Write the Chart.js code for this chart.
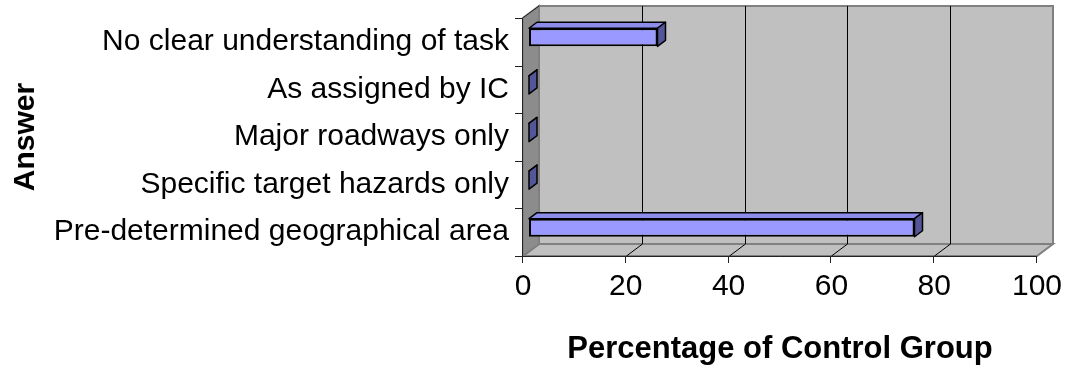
<!DOCTYPE html>
<html>
<head>
<meta charset="utf-8">
<script src="https://cdn.jsdelivr.net/npm/chart.js@4"></script>
<style>
  body { margin: 0; background: #fff; }
</style>
</head>
<body>
<canvas id="answerChart" width="1068" height="370"></canvas>
<script>
const categories = [
    'No clear understanding of task',
    'As assigned by IC',
    'Major roadways only',
    'Specific target hazards only',
    'Pre-determined geographical area'
];
const percentages = [25, 0, 0, 0, 75];
const xTicks = [0, 20, 40, 60, 80, 100];

const DEPTH_X = 16, DEPTH_Y = -12;   // wall depth
const BAR_OFF_X = 6, BAR_OFF_Y = -4.5; // bar front sits inside the box
const BAR_DX = 8, BAR_DY = -6;       // bar depth

// draws the excel-like 3d box, then shifts the bars in
const box3d = {
    id: 'box3d',
    beforeDatasetsDraw(chart) {
        const ctx = chart.ctx;
        const xs = chart.scales.x;
        const x0 = xs.getPixelForValue(0), x1 = xs.getPixelForValue(100);
        const top = chart.chartArea.top, bottom = chart.chartArea.bottom;

        ctx.save();

        // back wall
        ctx.fillStyle = '#C0C0C0';
        ctx.fillRect(x0 + DEPTH_X, top + DEPTH_Y, x1 - x0, bottom - top);
        ctx.strokeStyle = '#808080';
        ctx.lineWidth = 2;
        ctx.strokeRect(x0 + DEPTH_X, top + DEPTH_Y, x1 - x0, bottom - top);

        // floor
        ctx.beginPath();
        ctx.moveTo(x0, bottom);
        ctx.lineTo(x0 + DEPTH_X, bottom + DEPTH_Y);
        ctx.lineTo(x1 + DEPTH_X, bottom + DEPTH_Y);
        ctx.lineTo(x1, bottom);
        ctx.closePath();
        ctx.fillStyle = '#C0C0C0';
        ctx.fill();
        ctx.strokeStyle = '#808080';
        ctx.stroke();

        // left wall
        ctx.beginPath();
        ctx.moveTo(x0, top);
        ctx.lineTo(x0 + DEPTH_X, top + DEPTH_Y);
        ctx.lineTo(x0 + DEPTH_X, bottom + DEPTH_Y);
        ctx.lineTo(x0, bottom);
        ctx.closePath();
        ctx.fillStyle = '#8C8C8C';
        ctx.fill();
        ctx.strokeStyle = '#808080';
        ctx.stroke();

        // gridlines on back wall + floor diagonals
        ctx.strokeStyle = '#000';
        ctx.lineWidth = 1;
        xTicks.slice(1, -1).forEach(v => {
            const px = Math.round(xs.getPixelForValue(v)) + 0.5;
            ctx.beginPath();
            ctx.moveTo(px + DEPTH_X, top + DEPTH_Y);
            ctx.lineTo(px + DEPTH_X, bottom + DEPTH_Y);
            ctx.moveTo(px, bottom);
            ctx.lineTo(px + DEPTH_X, bottom + DEPTH_Y);
            ctx.stroke();
        });

        // axes and tick marks
        ctx.strokeStyle = '#222';
        ctx.beginPath();
        ctx.moveTo(x0 - 0.5, top);
        ctx.lineTo(x0 + DEPTH_X, top + DEPTH_Y);
        ctx.moveTo(x0 - 0.5, top);
        ctx.lineTo(x0 - 0.5, bottom + 0.5);
        ctx.lineTo(x1, bottom + 0.5);
        xTicks.forEach(v => {
            const px = Math.round(xs.getPixelForValue(v)) - 0.5;
            ctx.moveTo(px, bottom);
            ctx.lineTo(px, bottom + 7);
        });
        const band = (bottom - top) / categories.length;
        for (let i = 0; i <= categories.length; i++) {
            const py = Math.round(top + i * band) + 0.5;
            ctx.moveTo(x0 - 8, py);
            ctx.lineTo(x0, py);
        }
        ctx.stroke();
        ctx.restore();

        ctx.save();
        ctx.translate(BAR_OFF_X, BAR_OFF_Y);
    },
    afterDatasetsDraw(chart) {
        const ctx = chart.ctx;
        const meta = chart.getDatasetMeta(0);
        ctx.lineWidth = 1.5;
        ctx.strokeStyle = '#000';
        ctx.lineJoin = 'round';
        meta.data.forEach(bar => {
            const { x, y, base, height } = bar.getProps(['x', 'y', 'base', 'height'], true);
            const t = y - height / 2, b = y + height / 2;
            // top face
            ctx.beginPath();
            ctx.moveTo(base, t);
            ctx.lineTo(base + BAR_DX, t + BAR_DY);
            ctx.lineTo(x + BAR_DX, t + BAR_DY);
            ctx.lineTo(x, t);
            ctx.closePath();
            ctx.fillStyle = '#8C8CEB';
            ctx.fill();
            ctx.stroke();
            // side face
            ctx.beginPath();
            ctx.moveTo(x, t);
            ctx.lineTo(x + BAR_DX, t + BAR_DY);
            ctx.lineTo(x + BAR_DX, b + BAR_DY);
            ctx.lineTo(x, b);
            ctx.closePath();
            ctx.fillStyle = '#555599';
            ctx.fill();
            ctx.stroke();
        });
        ctx.restore();
    }
};

const ctx = document.getElementById('answerChart').getContext('2d');
const myChart = new Chart(ctx, {
    type: 'bar',
    data: {
        labels: categories,
        datasets: [{
            data: percentages,
            backgroundColor: '#9999FF',
            borderColor: '#000',
            borderWidth: 2,
            borderSkipped: false,
            categoryPercentage: 1,
            barPercentage: 0.38
        }]
    },
    options: {
        indexAxis: 'y',
        responsive: false,
        animation: false,
        layout: { padding: { left: 0, right: 31, top: 18, bottom: 0 } },
        plugins: { legend: { display: false }, tooltip: { enabled: false } },
        scales: {
            x: {
                min: 0,
                max: 100,
                afterBuildTicks: scale => { scale.ticks = xTicks.map(v => ({ value: v })); },
                afterFit: scale => {
                    scale.height = 114;
                    scale.paddingLeft = 0;
                    scale.paddingRight = 0;
                },
                grid: { display: false, drawTicks: false },
                border: { display: false },
                ticks: {
                    padding: 13,
                    color: '#000',
                    maxRotation: 0,
                    font: { family: 'Liberation Sans, Arial, sans-serif', size: 30 }
                },
                title: {
                    display: true,
                    text: 'Percentage of Control Group',
                    color: '#000',
                    padding: { top: 4, bottom: 2 },
                    font: { family: 'Liberation Sans, Arial, sans-serif', size: 31, weight: 'bold' }
                }
            },
            y: {
                afterFit: scale => {
                    scale.width = 523;
                    scale.paddingTop = 0;
                    scale.paddingBottom = 0;
                },
                grid: { display: false, drawTicks: false },
                border: { display: false },
                ticks: {
                    padding: 14,
                    color: '#000',
                    font: { family: 'Liberation Sans, Arial, sans-serif', size: 30 }
                },
                title: {
                    display: true,
                    text: 'Answer',
                    color: '#000',
                    padding: { top: 8, bottom: 0 },
                    font: { family: 'Liberation Sans, Arial, sans-serif', size: 30, weight: 'bold' }
                }
            }
        }
    },
    plugins: [box3d]
});
</script>
</body>
</html>
